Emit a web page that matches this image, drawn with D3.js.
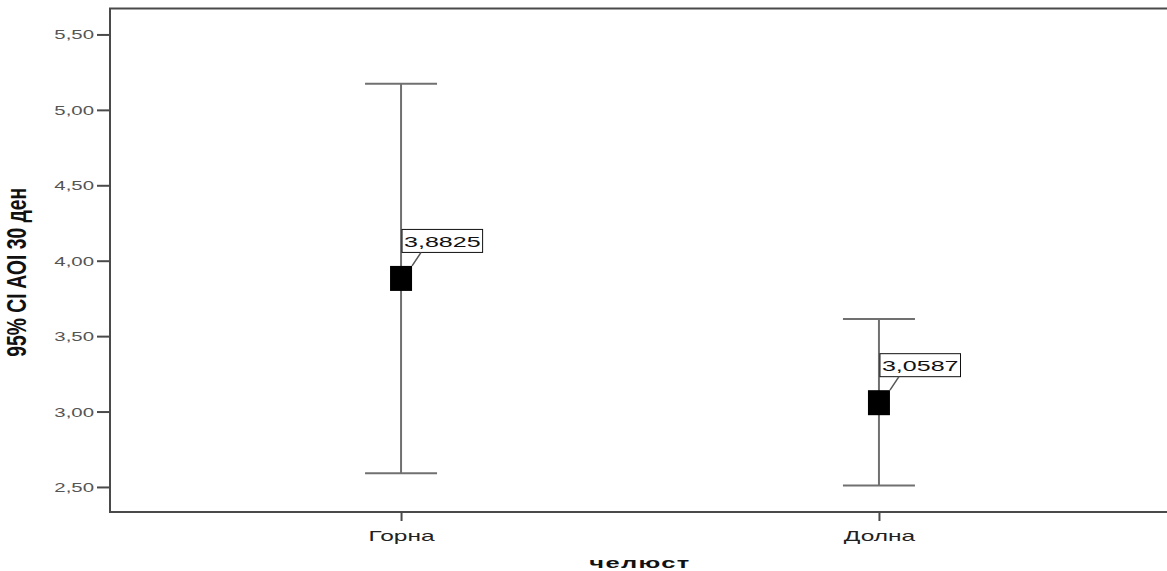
<!DOCTYPE html>
<html>
<head>
<meta charset="utf-8">
<script src="https://cdn.jsdelivr.net/npm/d3@7"></script>
<style>
  html, body { margin: 0; padding: 0; background: #ffffff; overflow: hidden; }
  svg { display: block; }
  text { font-family: "Liberation Sans", Arial, sans-serif; }
</style>
</head>
<body>
<svg id="chart" width="1167" height="571"></svg>
<script>
// Groups (jaw) and their 95% confidence intervals for AOI at day 30
const categories = ["Горна", "Долна"];
const means = [3.8825, 3.0587];
const lowerCI = [2.591, 2.509];
const upperCI = [5.173, 3.613];
const yTicks = [2.5, 3.0, 3.5, 4.0, 4.5, 5.0, 5.5];
const yTitle = "95% CI AOI 30 ден";
const xTitle = "челюст";

const svg = d3.select("#chart");
const plot = { left: 110, top: 8.5, right: 1170, bottom: 512 };
const SX = 1.7; // horizontal glyph stretch used for all text

const fmt = v => d3.format(".2f")(v).replace(".", ",");
const fmtLabel = v => d3.format(".4f")(v).replace(".", ",");

const y = d3.scaleLinear().domain([2.334, 5.672]).range([plot.bottom, plot.top]);
const x = d3.scalePoint().domain(categories).range([plot.left, plot.right]).padding(0.609);

// frame (open on the right, the plot area runs past the window edge)
svg.append("path")
  .attr("d", `M${plot.right},${plot.top}H${plot.left}V${plot.bottom}H${plot.right}`)
  .attr("fill", "none").attr("stroke", "#4a4a4a").attr("stroke-width", 2);

// y axis
const yAxis = svg.append("g")
  .attr("transform", `translate(${plot.left},0)`)
  .call(d3.axisLeft(y).tickValues(yTicks).tickSize(13).tickFormat(fmt));
yAxis.select(".domain").remove();
yAxis.selectAll(".tick line").attr("stroke", "#4a4a4a").attr("stroke-width", 2);
yAxis.selectAll(".tick text")
  .attr("x", null).attr("dy", null)
  .attr("transform", `translate(-16,4.5) scale(${SX},1)`)
  .attr("text-anchor", "end")
  .attr("fill", "#555").attr("font-size", 12);

// x axis
const xAxis = svg.append("g")
  .attr("transform", `translate(0,${plot.bottom})`)
  .call(d3.axisBottom(x).tickSize(9).tickPadding(0));
xAxis.select(".domain").remove();
xAxis.selectAll(".tick line").attr("stroke", "#4a4a4a").attr("stroke-width", 2);
xAxis.selectAll(".tick text")
  .attr("y", null).attr("dy", null)
  .attr("transform", `translate(0,28.5) scale(1.75,1)`)
  .attr("text-anchor", "middle")
  .attr("fill", "#222").attr("font-size", 14);

// axis titles
svg.append("text")
  .attr("transform", `translate(${(plot.left + plot.right) / 2},${plot.bottom + 56}) scale(${SX},1)`)
  .attr("text-anchor", "middle").attr("font-weight", "bold").attr("font-size", 15)
  .attr("fill", "#111").attr("letter-spacing", 0.8)
  .text(xTitle);

svg.append("text")
  .attr("transform", `translate(26,${(plot.top + plot.bottom) / 2 + 12}) scale(1.45,1) rotate(-90)`)
  .attr("text-anchor", "middle").attr("font-weight", "bold").attr("font-size", 19.3)
  .attr("fill", "#111")
  .text(yTitle);

// error bars
const data = categories.map((c, i) => ({ c, m: means[i], lo: lowerCI[i], hi: upperCI[i] }));
const capW = 72, boxW = 22, boxH = 25;
const g = svg.append("g");
const bars = g.selectAll("g.bar").data(data).join("g").attr("class", "bar");
bars.append("line")
  .attr("x1", d => x(d.c)).attr("x2", d => x(d.c))
  .attr("y1", d => y(d.lo)).attr("y2", d => y(d.hi))
  .attr("stroke", "#707070").attr("stroke-width", 2);
bars.selectAll("line.cap").data(d => [{ c: d.c, v: d.lo }, { c: d.c, v: d.hi }]).join("line")
  .attr("class", "cap")
  .attr("x1", d => x(d.c) - capW / 2).attr("x2", d => x(d.c) + capW / 2)
  .attr("y1", d => y(d.v)).attr("y2", d => y(d.v))
  .attr("stroke", "#707070").attr("stroke-width", 2);
bars.append("rect")
  .attr("x", d => x(d.c) - boxW / 2).attr("y", d => y(d.m) - boxH / 2)
  .attr("width", boxW).attr("height", boxH).attr("fill", "#000");

// mean value labels with leader lines
bars.each(function (d) {
  const sel = d3.select(this);
  const cx = x(d.c), cy = y(d.m);
  const bottom = cy - 26, left = cx + 1;
  const t = sel.append("text")
    .attr("text-anchor", "start").attr("font-size", 15).attr("fill", "#111")
    .attr("transform", `translate(${left + 2},${bottom - 5.5}) scale(1.67,1)`)
    .text(fmtLabel(d.m));
  const tw = t.node().getBBox().width * 1.67;
  sel.insert("rect", "text")
    .attr("x", left).attr("y", bottom - 23).attr("width", tw + 4).attr("height", 23)
    .attr("fill", "#fff").attr("stroke", "#111").attr("stroke-width", 1);
  sel.append("line")
    .attr("x1", cx + boxW / 2).attr("y1", cy - boxH / 2)
    .attr("x2", cx + 20).attr("y2", bottom)
    .attr("stroke", "#555").attr("stroke-width", 1.5);
});
</script>
</body>
</html>
